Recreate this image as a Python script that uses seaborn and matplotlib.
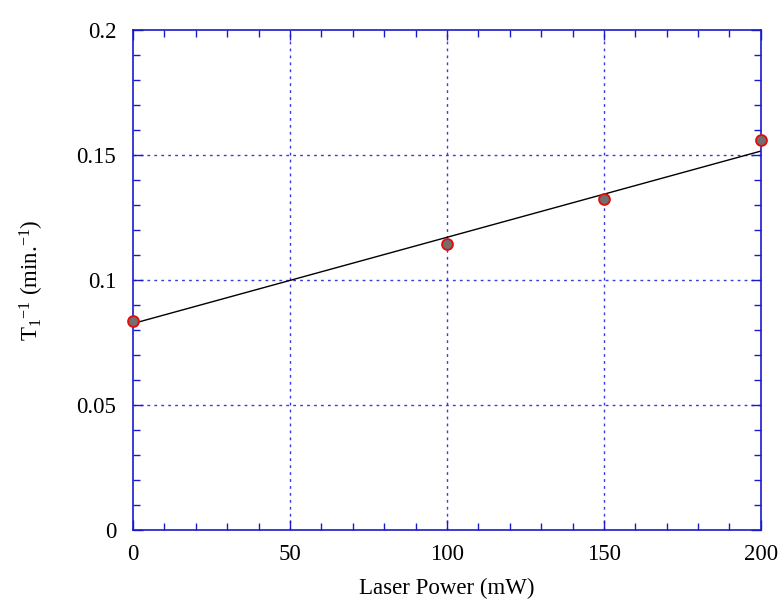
import matplotlib
matplotlib.use("Agg")
import matplotlib.pyplot as plt
from matplotlib.ticker import MultipleLocator
import seaborn as sns
import pandas as pd

# Data
laser_power = [0, 100, 150, 200]
inv_t1 = [0.0836, 0.1145, 0.1325, 0.156]
fit_x = [0, 200]
fit_y = [0.0826, 0.1516]
x_ticks = [0, 50, 100, 150, 200]
y_ticks = [0, 0.05, 0.1, 0.15, 0.2]
y_tick_labels = ["0", "0.05", "0.1", "0.15", "0.2"]

sns.set_theme(style="white")
plt.rcParams['font.family'] = ['Liberation Serif', 'DejaVu Serif']
plt.rcParams['mathtext.fontset'] = 'custom'
plt.rcParams['mathtext.rm'] = 'Liberation Serif'
plt.rcParams['mathtext.it'] = 'Liberation Serif'
plt.rcParams['mathtext.default'] = 'rm'

blue = '#1a1acc'
grid_blue = '#3a3ae0'
fig = plt.figure(figsize=(7.82, 6.02), dpi=100)
ax = fig.add_axes([0.170, 0.1196, 0.803, 0.8304])

df = pd.DataFrame({"x": laser_power, "y": inv_t1})
fit = pd.DataFrame({"x": fit_x, "y": fit_y})

for yv in y_ticks[1:-1]:
    ax.axhline(yv, color=grid_blue, lw=1.0, ls=(0, (2, 3)), zorder=0)
for xv in x_ticks[1:-1]:
    ax.axvline(xv, color=grid_blue, lw=1.0, ls=(0, (2, 3)), zorder=0)

sns.lineplot(data=fit, x="x", y="y", ax=ax, color='black', lw=1.0, zorder=2)
sns.scatterplot(data=df, x="x", y="y", ax=ax, s=60, color='#707070',
                edgecolor='#e01010', linewidth=1.4, zorder=3, clip_on=False)

ax.set_xlim(0, 200)
ax.set_ylim(0, 0.2)
ax.set_xticks(x_ticks)
ax.set_xticklabels([str(v) for v in x_ticks])
ax.set_yticks(y_ticks)
ax.set_yticklabels(y_tick_labels)
ax.xaxis.set_minor_locator(MultipleLocator(10))
ax.yaxis.set_minor_locator(MultipleLocator(0.01))
ax.tick_params(which='both', direction='in', top=True, right=True, left=True, bottom=True,
               color=blue, labelsize=16.5, labelcolor='black')
ax.tick_params(axis='y', which='both', pad=12)
ax.tick_params(axis='x', which='both', pad=10)
ax.tick_params(which='major', length=7, width=1)
ax.tick_params(which='minor', length=5, width=1)
for sp in ax.spines.values():
    sp.set_color(blue)
    sp.set_linewidth(1.2)

ax.set_xlabel("Laser Power (mW)", fontsize=16.5, labelpad=9, color='black')
ax.set_ylabel(r"T$_1$$^{\mathregular{-1}}$ (min.$^{\mathregular{-1}}$)", fontsize=16.5,
              labelpad=22, color='black')

fig.savefig("out.png", dpi=100)
